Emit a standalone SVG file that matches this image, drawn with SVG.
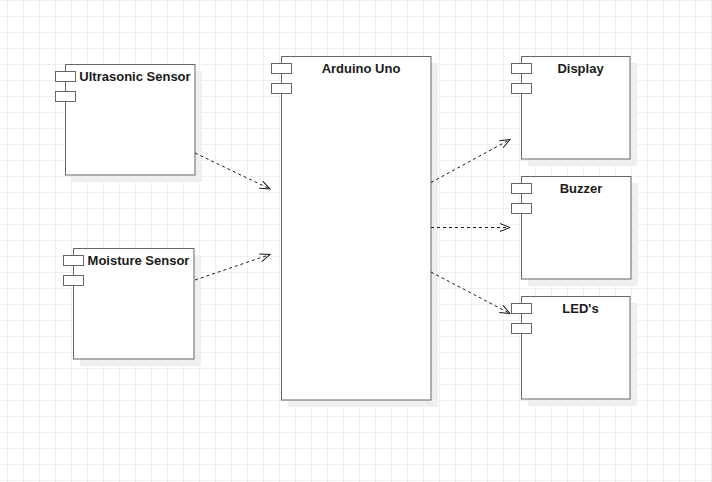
<svg xmlns="http://www.w3.org/2000/svg" width="712" height="482" viewBox="0 0 712 482">
<style>
.box{fill:#ffffff;stroke:#666666;stroke-width:1}
.shadow{fill:#efefef;stroke:none}
.port{fill:#ffffff;stroke:#666666;stroke-width:1}
.lbl{font-family:"Liberation Sans",Arial,sans-serif;font-size:13px;font-weight:bold;fill:#1a1a1a;text-anchor:middle}
.edge{fill:none;stroke:#1a1a1a;stroke-width:1;stroke-dasharray:3,3}
</style>
<defs>
<pattern id="grid" x="7" y="0" width="16" height="16" patternUnits="userSpaceOnUse">
<path d="M0.5,0 V16 M0,0.5 H16" fill="none" stroke="#f0f0f0" stroke-width="1"/>
</pattern>
<marker id="open" markerUnits="userSpaceOnUse" markerWidth="14" markerHeight="12" viewBox="-12 -6 14 12" refX="0" refY="0" orient="auto">
<path d="M-10,-4 L0,0 L-10,4" fill="none" stroke="#1a1a1a" stroke-width="1"/>
</marker>
</defs>
<rect width="712" height="482" fill="#ffffff"/>
<rect width="712" height="482" fill="url(#grid)"/>

<g id="ultrasonic">
<rect class="shadow" x="72" y="71" width="130" height="111"/>
<rect class="box" x="65.5" y="64.5" width="129.5" height="110.5"/>
<rect class="port" x="55.5" y="71.5" width="20" height="10"/>
<rect class="port" x="55.5" y="91.5" width="20" height="10"/>
<text class="lbl" x="135" y="81">Ultrasonic Sensor</text>
</g>

<g id="moisture">
<rect class="shadow" x="80" y="255" width="121" height="111"/>
<rect class="box" x="73.5" y="248.5" width="120.5" height="110.5"/>
<rect class="port" x="63.5" y="255.5" width="20" height="10"/>
<rect class="port" x="63.5" y="275.5" width="20" height="10"/>
<text class="lbl" x="138.5" y="265">Moisture Sensor</text>
</g>

<g id="arduino">
<rect class="shadow" x="288" y="63" width="150" height="344"/>
<rect class="box" x="281.5" y="56.5" width="149.5" height="343.5"/>
<rect class="port" x="271.5" y="63.5" width="20" height="10"/>
<rect class="port" x="271.5" y="83.5" width="20" height="10"/>
<text class="lbl" x="361" y="73">Arduino Uno</text>
</g>

<g id="display">
<rect class="shadow" x="528" y="63" width="109" height="103"/>
<rect class="box" x="521.5" y="56.5" width="108.5" height="102.5"/>
<rect class="port" x="511.5" y="63.5" width="20" height="10"/>
<rect class="port" x="511.5" y="83.5" width="20" height="10"/>
<text class="lbl" x="580.5" y="73">Display</text>
</g>

<g id="buzzer">
<rect class="shadow" x="528" y="183" width="110" height="103"/>
<rect class="box" x="521.5" y="176.5" width="109.5" height="102.5"/>
<rect class="port" x="511.5" y="183.5" width="20" height="10"/>
<rect class="port" x="511.5" y="203.5" width="20" height="10"/>
<text class="lbl" x="581" y="193">Buzzer</text>
</g>

<g id="leds">
<rect class="shadow" x="528" y="303" width="109" height="103"/>
<rect class="box" x="521.5" y="296.5" width="108.5" height="102.5"/>
<rect class="port" x="511.5" y="303.5" width="20" height="10"/>
<rect class="port" x="511.5" y="323.5" width="20" height="10"/>
<text class="lbl" x="580.5" y="313">LED's</text>
</g>

<g id="connectors">
<path class="edge" d="M195,153 L270,189" marker-end="url(#open)"/>
<path class="edge" d="M195,280 L270,254.5" marker-end="url(#open)"/>
<path class="edge" d="M431,182.5 L510,139.5" marker-end="url(#open)"/>
<path class="edge" d="M431,227.5 L510,227.5" marker-end="url(#open)"/>
<path class="edge" d="M431,272 L510,313.5" marker-end="url(#open)"/>
</g>
</svg>
